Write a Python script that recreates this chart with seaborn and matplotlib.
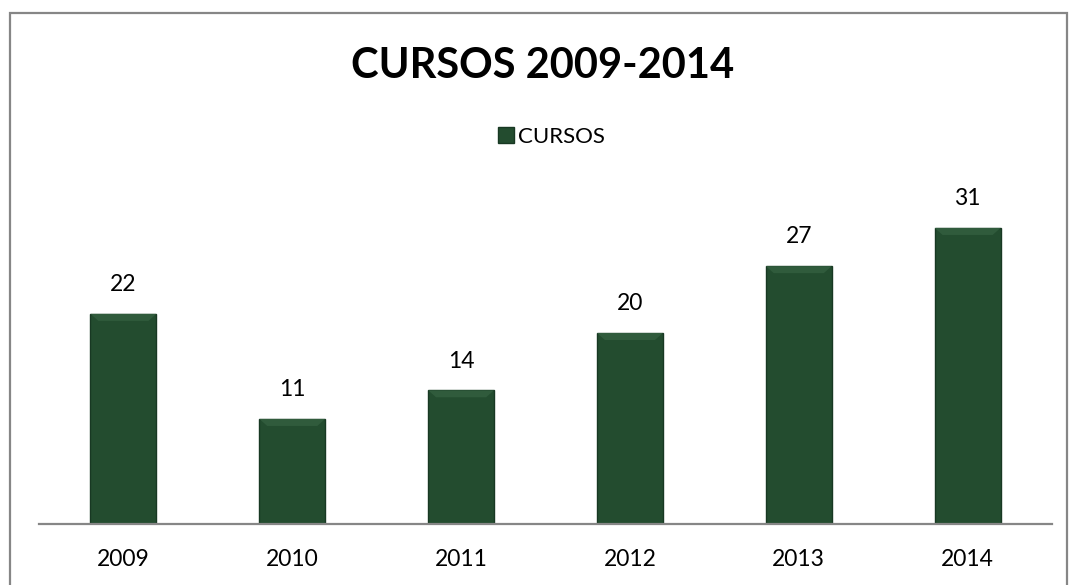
import matplotlib
matplotlib.use("Agg")
import matplotlib.pyplot as plt
import seaborn as sns
import pandas as pd
from matplotlib.patches import Rectangle, Polygon

# datos
anios = ["2009", "2010", "2011", "2012", "2013", "2014"]
cursos = [22, 11, 14, 20, 27, 31]
titulo = "CURSOS 2009-2014"
serie = "CURSOS"

df = pd.DataFrame({"anio": anios, "cursos": cursos})

sns.set_style("white")
plt.rcParams['font.family'] = ['Lato', 'DejaVu Sans']
plt.rcParams['text.color'] = 'black'

W, H = 1069, 585
fig = plt.figure(figsize=(W / 100, H / 100), dpi=100)
ax = fig.add_axes([39 / W, 1 - 524 / H, (1052 - 39) / W, (524 - 160) / H])

verde = "#234c2f"
sns.barplot(data=df, x="anio", y="cursos", color=verde, width=0.39,
            saturation=1, ax=ax, edgecolor="#183823", linewidth=1.0)

ymax = (524 - 160) / 9.55
ax.set_ylim(0, ymax)
ax.set_xlabel("")
ax.set_ylabel("")
ax.set_yticks([])
ax.tick_params(axis="x", length=0, labelsize=16.5, pad=18, colors="black")
for s in ["top", "right", "left"]:
    ax.spines[s].set_visible(False)
ax.spines["bottom"].set_color("#868686")
ax.spines["bottom"].set_linewidth(1.6)

# efecto biselado en la parte superior de cada barra
px_y = ymax / (524 - 160)
for p in list(ax.patches):
    x0, w, top = p.get_x(), p.get_width(), p.get_height()
    dx = w * 0.12
    dy = 7 * px_y
    ax.add_patch(Polygon([(x0, top), (x0 + w, top), (x0 + w - dx, top - dy),
                          (x0 + dx, top - dy)], closed=True,
                         facecolor="#305b3c", edgecolor="none", zorder=3))

# etiquetas de valores
for p, v in zip(ax.patches, cursos):
    ax.annotate(str(v), (p.get_x() + p.get_width() / 2, p.get_height()),
                xytext=(0, 21), textcoords="offset points",
                ha="center", va="center", fontsize=16.5, clip_on=False)

# título y leyenda
fig.text(543 / W, 1 - 66 / H, titulo, ha="center", va="center",
         fontsize=30, fontweight="bold")
leg_patch = Rectangle((0, 0), 1, 1, facecolor=verde, edgecolor="#183823")
fig.legend([leg_patch], [serie], loc="center", bbox_to_anchor=(551 / W, 1 - 137 / H),
           frameon=False, fontsize=16, handlelength=0.75, handleheight=0.75,
           handletextpad=0.15)

# borde del gráfico
fig.patches.append(Rectangle((10 / W, -0.05), (1067 - 10) / W, 1.05 - 13 / H,
                             transform=fig.transFigure, fill=False,
                             edgecolor="#868686", linewidth=1.6))

fig.savefig("out.png", dpi=100)
